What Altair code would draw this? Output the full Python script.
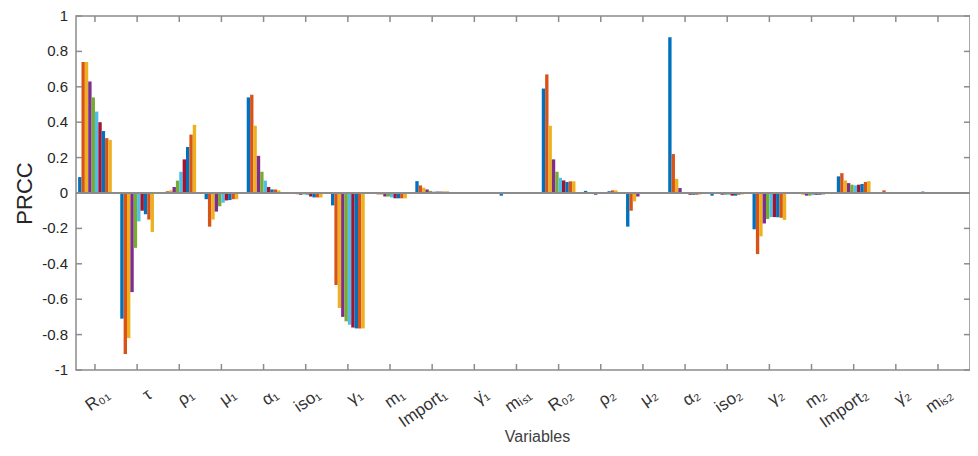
import altair as alt
import pandas as pd

variables = ["R₀₁", "τ", "ρ₁", "μ₁", "α₁", "iso₁", "γ₁", "m₁", "Import₁", "γ̇₁", "mᵢₛ₁",
             "R₀₂", "ρ₂", "μ₂", "α₂", "iso₂", "γ₂", "m₂", "Import₂", "γ̇₂", "mᵢₛ₂"]

R01 = [0.09, 0.74, 0.74, 0.63, 0.54, 0.46, 0.40, 0.35, 0.31, 0.30]
tau = [-0.71, -0.91, -0.82, -0.56, -0.31, -0.16, -0.10, -0.12, -0.15, -0.22]
rho1 = [0.003, 0.01, 0.015, 0.034, 0.07, 0.12, 0.19, 0.26, 0.33, 0.385]
mu1 = [-0.035, -0.19, -0.15, -0.105, -0.075, -0.055, -0.042, -0.04, -0.035, -0.035]
alpha1 = [0.54, 0.555, 0.38, 0.21, 0.12, 0.07, 0.034, 0.02, 0.02, 0.015]
iso1 = [-0.005, -0.003, -0.008, -0.01, -0.008, -0.012, -0.02, -0.025, -0.025, -0.025]
gamma1 = [-0.07, -0.52, -0.65, -0.70, -0.725, -0.745, -0.76, -0.765, -0.765, -0.765]
m1 = [-0.005, -0.008, -0.01, -0.02, -0.02, -0.025, -0.03, -0.03, -0.03, -0.03]
import1 = [0.067, 0.043, 0.03, 0.02, 0.012, 0.008, 0.008, 0.008, 0.008, 0.01]
gdot1 = [0.003, 0.002, 0.002, 0.003, 0.002, 0.002, 0.003, 0.003, 0.002, 0.002]
mis1 = [-0.015, -0.005, 0.002, 0.002, 0.001, 0.001, 0.002, 0.002, 0.002, 0.002]
R02 = [0.59, 0.67, 0.38, 0.19, 0.12, 0.086, 0.071, 0.062, 0.066, 0.066]
rho2 = [0.012, 0.005, -0.003, -0.01, -0.003, 0.003, 0.005, 0.01, 0.015, 0.015]
mu2 = [-0.19, -0.10, -0.047, -0.02, -0.005, 0.0, 0.005, 0.005, 0.005, 0.003]
alpha2 = [0.88, 0.22, 0.08, 0.028, 0.003, -0.005, -0.01, -0.01, -0.01, -0.008]
iso2 = [-0.015, -0.005, -0.005, -0.01, -0.01, -0.01, -0.015, -0.015, -0.01, -0.008]
gamma2 = [-0.205, -0.345, -0.245, -0.172, -0.147, -0.136, -0.136, -0.137, -0.14, -0.152]
m2 = [-0.005, -0.005, -0.01, -0.015, -0.015, -0.012, -0.01, -0.01, -0.008, -0.005]
import2 = [0.094, 0.112, 0.071, 0.056, 0.047, 0.043, 0.047, 0.051, 0.062, 0.067]
gdot2 = [0.002, 0.015, 0.002, 0.001, 0.001, 0.001, 0.002, 0.002, 0.002, 0.002]
mis2 = [0.008, 0.002, 0.002, -0.005, -0.003, -0.002, 0.001, 0.001, 0.002, 0.002]

groups = [R01, tau, rho1, mu1, alpha1, iso1, gamma1, m1, import1, gdot1, mis1,
          R02, rho2, mu2, alpha2, iso2, gamma2, m2, import2, gdot2, mis2]

series_names = ["s1", "s2", "s3", "s4", "s5", "s6", "s7", "s8", "s9", "s10"]
series_colors = ["#0072BD", "#D95319", "#EDB120", "#7E2F8E", "#77AC30",
                 "#4DBEEE", "#A2142F", "#0072BD", "#D95319", "#EDB120"]

y_ticks = [1, 0.8, 0.6, 0.4, 0.2, 0, -0.2, -0.4, -0.6, -0.8, -1]
y_tick_labels = ["1", "0.8", "0.6", "0.4", "0.2", "0", "-0.2", "-0.4", "-0.6", "-0.8", "-1"]

GROUP_WIDTH = 0.8
n_series = len(series_names)
bar_w = GROUP_WIDTH / n_series

rows = []
for i, vals in enumerate(groups):
    for j, v in enumerate(vals):
        center = (i + 1) - GROUP_WIDTH / 2 + (j + 0.5) * bar_w
        rows.append({"variable": variables[i], "series": series_names[j],
                     "left": center - bar_w / 2, "right": center + bar_w / 2,
                     "prcc": v})
bars_df = pd.DataFrame(rows)
xticks_df = pd.DataFrame({"left": list(range(1, len(variables) + 1)), "name": variables})
yticks_df = pd.DataFrame({"prcc": y_ticks, "label": y_tick_labels})

W, H = 894, 354
FRAME = "#8c8c8c"
xscale = alt.Scale(domain=[0.55, 21.76], nice=False, zero=False)
yscale = alt.Scale(domain=[-1, 1], nice=False, zero=False)

x_axis = alt.Axis(labels=False, ticks=False, domain=False, grid=False,
                  title="Variables", titleFontSize=16, titleFontWeight="normal",
                  titleColor="#404040", titleX=461, titleY=58)
y_axis = alt.Axis(labels=False, ticks=False, domain=False, grid=False,
                  title="PRCC", titleFontSize=22, titleFontWeight="normal",
                  titleColor="#262626", titlePadding=40)

X = alt.X("left:Q", scale=xscale, axis=x_axis)
Y = alt.Y("prcc:Q", scale=yscale, axis=y_axis)

bars = alt.Chart(bars_df).mark_bar(strokeWidth=0).encode(
    x=X,
    x2="right:Q",
    y=Y,
    y2=alt.datum(0),
    color=alt.Color("series:N", scale=alt.Scale(domain=series_names, range=series_colors),
                    legend=None),
)

baseline = alt.Chart(bars_df).mark_rule(color=FRAME, strokeWidth=1.5).encode(
    y=alt.datum(0), x=alt.value(0), x2=alt.value(W))

xt_bottom = alt.Chart(xticks_df).mark_rule(color=FRAME, strokeWidth=1.5).encode(
    x=X, y=alt.value(H), y2=alt.value(H - 6))
xt_top = alt.Chart(xticks_df).mark_rule(color=FRAME, strokeWidth=1.5).encode(
    x=X, y=alt.value(0), y2=alt.value(6))
xt_labels = alt.Chart(xticks_df).mark_text(
    align="right", baseline="middle", fontSize=17, color="#333333", angle=325, xOffset=13
).encode(x=X, y=alt.value(H + 23), text="name:N")
yt_left = alt.Chart(yticks_df).mark_rule(color=FRAME, strokeWidth=1.5).encode(
    y=Y, x=alt.value(0), x2=alt.value(6))
yt_right = alt.Chart(yticks_df).mark_rule(color=FRAME, strokeWidth=1.5).encode(
    y=Y, x=alt.value(W), x2=alt.value(W - 6))
yt_labels = alt.Chart(yticks_df).mark_text(
    align="right", baseline="middle", fontSize=15, color="#262626", dx=-8
).encode(y=Y, x=alt.value(0), text="label:N")

chart = alt.layer(bars, baseline, xt_bottom, xt_top, xt_labels,
                  yt_left, yt_right, yt_labels).properties(
    width=W, height=H,
    autosize=alt.AutoSizeParams(type="none"),
    padding={"left": 68, "top": 8, "right": 0, "bottom": 80},
).configure(font="Liberation Sans").configure_view(stroke=FRAME, strokeWidth=1.5)

chart.save("out.html", embed_options={"renderer": "svg", "actions": False})
